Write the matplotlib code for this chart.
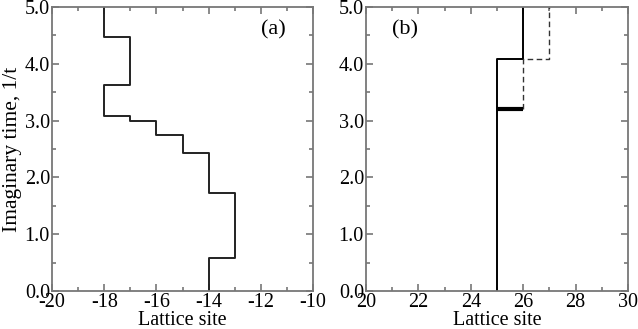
import matplotlib.pyplot as plt
from matplotlib.ticker import MultipleLocator

plt.rcParams['font.family'] = ['Liberation Serif', 'DejaVu Serif']
plt.rcParams['axes.unicode_minus'] = False

# panel (a): worldline as (site, time) corner points
a_sites = [-14, -14, -13, -13, -14, -14, -15, -15, -16, -16, -17, -17, -18, -18, -17, -17, -18, -18]
a_times = [0.0, 0.58, 0.58, 1.72, 1.72, 2.43, 2.43, 2.74, 2.74, 2.99, 2.99, 3.08, 3.08, 3.63, 3.63, 4.47, 4.47, 5.0]

# panel (b): solid worldline, dashed alternative, thick jump segment
b_sites = [25, 25, 26, 26]
b_times = [0.0, 4.08, 4.08, 5.0]
b_dash_sites = [26, 26, 27, 27]
b_dash_times = [3.2, 4.08, 4.08, 5.0]
b_jump_sites = [25, 26]
b_jump_times = [3.2, 3.2]

fig = plt.figure(figsize=(6.38, 3.29), dpi=100)
ax1 = fig.add_axes([52 / 638, 1 - 291 / 329, 261 / 638, 284 / 329])
ax2 = fig.add_axes([366 / 638, 1 - 291 / 329, 262 / 638, 284 / 329])

ax1.plot(a_sites, a_times, color='#222222', lw=1.4)
ax2.plot(b_sites, b_times, color='black', lw=1.4)
ax2.plot(b_dash_sites, b_dash_times, color='#333333', lw=1.0, ls=(0, (4, 2.5)))
ax2.plot(b_jump_sites, b_jump_times, color='black', lw=3.0, solid_capstyle='butt')

ax1.set_xlim(-20, -10)
ax2.set_xlim(20, 30)
for ax in (ax1, ax2):
    ax.set_ylim(0, 5)
    ax.xaxis.set_major_locator(MultipleLocator(2))
    ax.xaxis.set_minor_locator(MultipleLocator(1))
    ax.yaxis.set_major_locator(MultipleLocator(1))
    ax.yaxis.set_minor_locator(MultipleLocator(0.5))
    ax.yaxis.set_major_formatter('{x:.1f}')
    ax.tick_params(which='both', direction='in', top=True, right=True,
                   color='#777777', labelsize=14.5, pad=1.5)
    ax.tick_params(which='major', length=5, width=1.2)
    ax.tick_params(which='minor', length=3, width=1.2)
    for s in ax.spines.values():
        s.set_color('#777777')
        s.set_linewidth(1.3)
    ax.set_xlabel('Lattice site', fontsize=14.5, labelpad=-0.5)

ax1.set_ylabel('Imaginary time, 1/t', fontsize=15.5, labelpad=2)
ax1.text(-11.5, 4.6, '(a)', fontsize=16, ha='center', va='center')
ax2.text(21.5, 4.6, '(b)', fontsize=16, ha='center', va='center')

fig.savefig('out.png', dpi=100)
